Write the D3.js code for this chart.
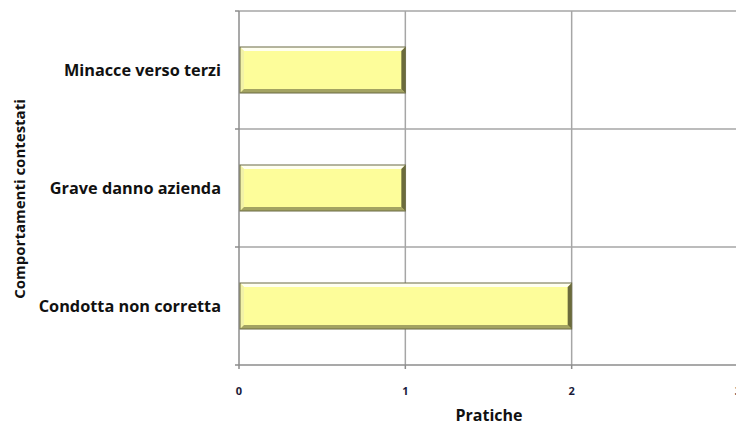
<!DOCTYPE html>
<html lang="it">
<head>
    <meta charset="UTF-8">
    <title>Comportamenti contestati</title>
    <script src="https://cdn.jsdelivr.net/npm/d3@7"></script>
    <style>
        body { margin: 0; background: #fff; }
        svg { width: 736px; height: 426px; display: block; }
        text { font-family: "Open Sans", Lato, sans-serif; font-weight: bold; fill: #111; }
        .grid line { stroke: #a6a6a6; stroke-width: 1.5px; }
        .axis line { stroke: #8c8c8c; stroke-width: 1.5px; }
    </style>
</head>
<body>
<svg></svg>
<script>
    var categories = ['Minacce verso terzi', 'Grave danno azienda', 'Condotta non corretta'];
    var values = [1, 1, 2];
    var xTicks = [0, 1, 2, 3];

    var svg = d3.select('svg');
    var plotLeft = 239, plotTop = 11, plotH = 354;

    var x = d3.scaleLinear().domain([0, 3]).range([plotLeft, 738]);
    var y = d3.scaleBand().domain(categories).range([plotTop, plotTop + plotH]);

    // gridlines
    var grid = svg.append('g').attr('class', 'grid');
    grid.selectAll('.v').data(xTicks.slice(1)).enter().append('line')
        .attr('x1', function (d) { return x(d); })
        .attr('x2', function (d) { return x(d); })
        .attr('y1', plotTop).attr('y2', plotTop + plotH);
    var hLines = categories.map(function (c) { return y(c); });
    grid.selectAll('.h').data(hLines).enter().append('line')
        .attr('x1', plotLeft).attr('x2', 736)
        .attr('y1', function (d) { return d; })
        .attr('y2', function (d) { return d; });

    // axes
    var ax = svg.append('g').attr('class', 'axis');
    ax.append('line').attr('x1', plotLeft).attr('x2', plotLeft).attr('y1', plotTop).attr('y2', plotTop + plotH);
    ax.append('line').attr('x1', plotLeft - 4).attr('x2', 736).attr('y1', plotTop + plotH).attr('y2', plotTop + plotH);
    hLines.forEach(function (d) {
        ax.append('line').attr('x1', plotLeft - 4).attr('x2', plotLeft).attr('y1', d).attr('y2', d);
    });
    xTicks.forEach(function (d) {
        ax.append('line').attr('x1', x(d)).attr('x2', x(d)).attr('y1', plotTop + plotH).attr('y2', plotTop + plotH + 4);
    });

    // bars with bevel
    var barH = 46;
    var bev = 4;
    var bars = svg.append('g');
    categories.forEach(function (c, i) {
        var x0 = x(0) + 1, x1 = x(values[i]);
        var y0 = y(c) + (y.bandwidth() - barH) / 2, y1 = y0 + barH;
        var g = bars.append('g');
        g.append('rect').attr('x', x0).attr('y', y0).attr('width', x1 - x0).attr('height', barH)
            .attr('fill', '#fdfd9a');
        g.append('polygon').attr('points', [[x0, y0], [x1, y0], [x1 - bev, y0 + bev], [x0 + bev, y0 + bev]].join(' '))
            .attr('fill', '#fffff0');
        g.append('polygon').attr('points', [[x0, y0], [x0 + bev, y0 + bev], [x0 + bev, y1 - bev], [x0, y1]].join(' '))
            .attr('fill', '#f2f2a8');
        g.append('polygon').attr('points', [[x0, y1], [x0 + bev, y1 - bev], [x1 - bev, y1 - bev], [x1, y1]].join(' '))
            .attr('fill', '#a3a362');
        g.append('polygon').attr('points', [[x1, y0], [x1, y1], [x1 - bev, y1 - bev], [x1 - bev, y0 + bev]].join(' '))
            .attr('fill', '#6b6b3c');
        g.append('rect').attr('x', x0).attr('y', y0).attr('width', x1 - x0).attr('height', barH)
            .attr('fill', 'none').attr('stroke', '#6a6a45').attr('stroke-width', 1);
    });

    // category labels
    svg.selectAll('.cat').data(categories).enter().append('text')
        .attr('x', 221)
        .attr('y', function (d) { return y(d) + y.bandwidth() / 2; })
        .attr('dy', '0.35em')
        .attr('text-anchor', 'end')
        .style('font-size', '16.3px')
        .text(function (d) { return d; });

    // x tick labels
    svg.selectAll('.xt').data(xTicks).enter().append('text')
        .attr('x', function (d) { return x(d); })
        .attr('y', 395)
        .attr('text-anchor', 'middle')
        .style('font-size', '11px')
        .style('fill', '#1a1a3a')
        .text(function (d) { return d; });

    svg.append('text').attr('x', 489).attr('y', 421).attr('text-anchor', 'middle')
        .style('font-size', '16px').text('Pratiche');

    svg.append('text').attr('transform', 'translate(25,199) rotate(-90)').attr('text-anchor', 'middle')
        .style('font-size', '15px').text('Comportamenti contestati');
</script>
</body>
</html>
